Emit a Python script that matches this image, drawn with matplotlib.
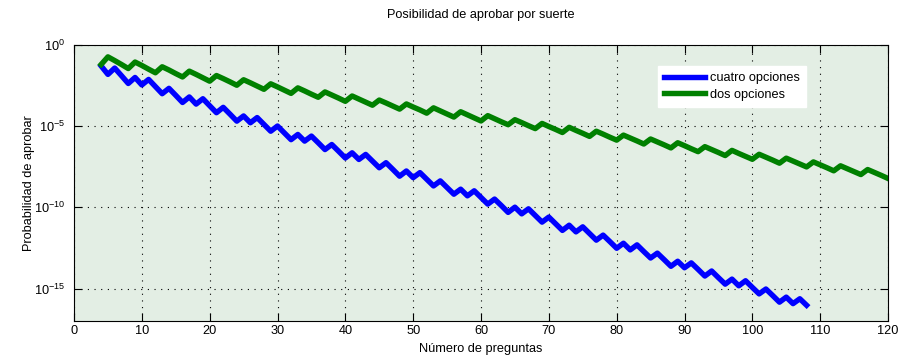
import numpy as np
import matplotlib
matplotlib.use("Agg")
import matplotlib.pyplot as plt

# Number of questions for each series
preguntas_cuatro = list(range(4, 109))
preguntas_dos = list(range(4, 121))

# log10 of the probability of passing by chance
log10_cuatro = [
    -1.29, -1.81, -1.42, -1.89, -2.37, -2.00, -2.46, -2.12, -2.56, -3.00,
    -2.67, -3.10, -3.54, -3.20, -3.64, -3.31, -3.74, -4.17, -3.84, -4.26,
    -4.69, -4.37, -4.79, -4.47, -4.89, -5.31, -4.99, -5.41, -5.83, -5.51,
    -5.92, -5.61, -6.02, -6.44, -6.13, -6.54, -6.96, -6.64, -7.05, -6.74,
    -7.15, -7.56, -7.25, -7.66, -8.08, -7.76, -8.17, -7.86, -8.27, -8.68,
    -8.37, -8.78, -9.19, -8.88, -9.29, -8.98, -9.39, -9.80, -9.49, -9.89,
    -10.31, -9.99, -10.40, -10.09, -10.50, -10.91, -10.60, -11.01, -11.42, -11.10,
    -11.51, -11.20, -11.61, -12.02, -11.71, -12.11, -12.52, -12.21, -12.62, -12.31,
    -12.72, -13.12, -12.82, -13.22, -13.63, -13.32, -13.72, -13.42, -13.82, -14.23,
    -13.92, -14.33, -14.73, -14.42, -14.83, -14.52, -14.93, -15.33, -15.03, -15.43,
    -15.84, -15.53, -15.93, -15.63, -16.03,
]
log10_dos = [
    -1.20, -0.73, -0.96, -1.20, -1.45, -1.05, -1.26, -1.49, -1.71, -1.34,
    -1.54, -1.76, -1.97, -1.61, -1.81, -2.02, -2.23, -1.88, -2.07, -2.27,
    -2.48, -2.14, -2.33, -2.53, -2.73, -2.39, -2.58, -2.78, -2.98, -2.64,
    -2.83, -3.03, -3.22, -2.89, -3.08, -3.27, -3.47, -3.14, -3.33, -3.52,
    -3.71, -3.39, -3.57, -3.76, -3.95, -3.63, -3.82, -4.00, -4.20, -3.87,
    -4.06, -4.25, -4.44, -4.11, -4.30, -4.49, -4.68, -4.35, -4.54, -4.73,
    -4.91, -4.60, -4.78, -4.97, -5.15, -4.83, -5.02, -5.20, -5.39, -5.07,
    -5.26, -5.44, -5.63, -5.31, -5.49, -5.68, -5.86, -5.55, -5.73, -5.91,
    -6.10, -5.79, -5.97, -6.15, -6.34, -6.02, -6.20, -6.39, -6.57, -6.26,
    -6.44, -6.62, -6.81, -6.49, -6.68, -6.86, -7.04, -6.73, -6.91, -7.09,
    -7.28, -6.97, -7.15, -7.33, -7.51, -7.20, -7.38, -7.56, -7.75, -7.44,
    -7.62, -7.80, -7.98, -7.67, -7.85, -8.03, -8.22,
]

series_labels = ['cuatro opciones', 'dos opciones']
xticks = list(range(0, 121, 10))
yticks = [1e0, 1e-5, 1e-10, 1e-15]
yticklabels = ['$10^{0}$', '$10^{-5}$', '$10^{-10}$', '$10^{-15}$']

prob_cuatro = 10.0 ** np.array(log10_cuatro)
prob_dos = 10.0 ** np.array(log10_dos)

plt.rcParams['font.family'] = ['Liberation Sans', 'DejaVu Sans']
plt.rcParams['mathtext.fontset'] = 'custom'
plt.rcParams['mathtext.rm'] = 'Liberation Sans'
plt.rcParams['mathtext.it'] = 'Liberation Sans:italic'
plt.rcParams['mathtext.bf'] = 'Liberation Sans:bold'
FS = 9.2

fig = plt.figure(figsize=(9.1, 3.61), dpi=100)
ax = fig.add_axes([74/910, 1-321/361, (888-74)/910, (321-45)/361])
ax.set_facecolor('#E3EEE4')
ax.semilogy(preguntas_cuatro, prob_cuatro, color=(0, 0, 1), lw=3.9, label=series_labels[0])
ax.semilogy(preguntas_dos, prob_dos, color=(0, 0.5, 0), lw=3.9, label=series_labels[1])
ax.set_xlim(0, 120)
ax.set_ylim(1e-17, 1)
ax.set_xticks(xticks)
ax.set_yticks(yticks)
ax.set_yticklabels(yticklabels)
ax.minorticks_off()
ax.grid(True, color='black', linestyle=(0, (1, 5)), linewidth=0.8)
ax.tick_params(direction='in', length=5.8, width=0.8, top=True, right=True, labelsize=FS, colors='black')
ax.tick_params(axis='x', pad=3)
ax.tick_params(axis='y', pad=6.5)
for s in ax.spines.values():
    s.set_linewidth(0.8)

fig.text(481/910, 1-15/361, 'Posibilidad de aprobar por suerte', ha='center', va='center', fontsize=FS)
fig.text(481/910, 1-349/361, 'Número de preguntas', ha='center', va='center', fontsize=FS)
fig.text(29/910, 1-183/361, 'Probabilidad de aprobar', ha='center', va='center', rotation=90, fontsize=FS)

ax.legend(loc='upper left', bbox_to_anchor=(658/910, 1-66/361), bbox_transform=fig.transFigure,
          fontsize=FS, frameon=True, fancybox=False, framealpha=1, edgecolor='white',
          borderaxespad=0, borderpad=0.5, labelspacing=0.35, handlelength=3.2, handletextpad=0.35)

fig.savefig("out.png")
